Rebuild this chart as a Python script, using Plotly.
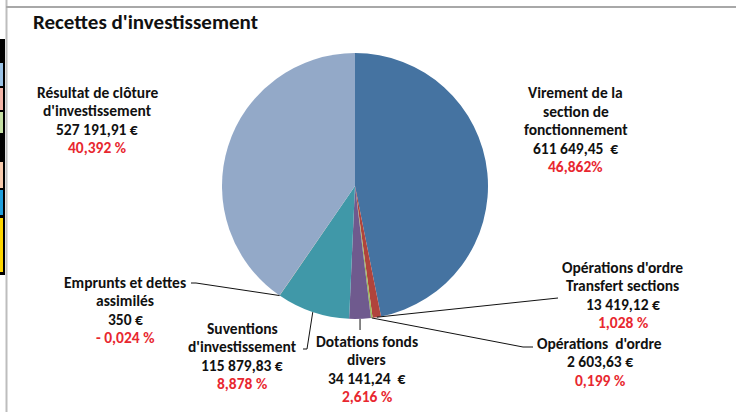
import math
import plotly.graph_objects as go

W, H = 736, 412

# ---- data ----
categories = [
    "Virement de la\nsection de\nfonctionnement",
    "Opérations d'ordre\nTransfert sections",
    "Opérations  d'ordre",
    "Dotations fonds\ndivers",
    "Suventions\nd'investissement",
    "Emprunts et dettes\nassimilés",
    "Résultat de clôture\nd'investissement",
]
values = [611649.45, 13419.12, 2603.63, 34141.24, 115879.83, 350, 527191.91]
amount_labels = ["611 649,45  €", "13 419,12 €", "2 603,63 €", "34 141,24  €",
                 "115 879,83 €", "350 €", "527 191,91 €"]
pct_labels = ["46,862%", "1,028 %", "0,199 %", "2,616 %", "8,878 %", "- 0,024 %", "40,392 %"]
colors = ["#4573A1", "#B0443C", "#9BBB59", "#6F5A8E", "#4098A8", "#E08A4A", "#93A9C8"]

# ---- layout (pixels) ----
CX, CY, R = 355, 186, 133
label_xy = [(575.5, 92.5), (622.5, 267), (599.5, 343), (366.5, 341),
            (242, 328), (125, 282), (97, 92)]
# leader line extra points after the slice anchor (None = no leader)
leader_pts = [None, [(558, 298)], [(523, 347), (533, 347)], [(None, 330)],
              [(307, 349), (303, 349)], [(196, 283), (191, 283)], None]
LINE_H = 18.6
FONT = "Carlito, Lato, sans-serif"


def px(x):
    return x / W


def py(y):
    return 1 - y / H


fig = go.Figure()
fig.add_trace(go.Pie(
    values=values,
    labels=[c.replace("\n", " ") for c in categories],
    marker=dict(colors=colors, line=dict(width=0)),
    sort=False, direction="clockwise", rotation=0,
    textinfo="none", hoverinfo="label+value+percent",
    domain=dict(x=[px(CX - R), px(CX + R)], y=[py(CY + R), py(CY - R)]),
    showlegend=False,
))

annotations = []
shapes = []
total = sum(values)
cum = 0.0
for i, v in enumerate(values):
    mid = (cum + v / 2) / total
    cum += v
    ang = 2 * math.pi * mid
    ax, ay = CX + R * math.sin(ang), CY - R * math.cos(ang)
    lines = categories[i].split("\n") + [amount_labels[i], pct_labels[i]]
    lx, ly = label_xy[i]
    for k, t in enumerate(lines):
        red = k == len(lines) - 1
        annotations.append(dict(
            x=px(lx), y=py(ly + k * LINE_H), xref="paper", yref="paper",
            text=f"<b>{t}</b>", showarrow=False, xanchor="center", yanchor="middle",
            font=dict(family=FONT, size=15.5, color="#E8272F" if red else "#111111"),
        ))
    if leader_pts[i]:
        pts = [(ax, ay)] + [((ax if x is None else x), y) for x, y in leader_pts[i]]
        path = "M " + " L ".join(f"{px(x)},{py(y)}" for x, y in pts)
        shapes.append(dict(type="path", xref="paper", yref="paper", path=path,
                           line=dict(color="#111111", width=1)))

# title
annotations.append(dict(
    x=px(31), y=py(22), xref="paper", yref="paper", text="<b>Recettes d'investissement</b>",
    showarrow=False, xanchor="left", yanchor="middle",
    font=dict(family=FONT, size=21, color="#111111"),
))

# spreadsheet frame decorations
shapes.append(dict(type="line", xref="paper", yref="paper", x0=px(6.5), x1=px(6.5), y0=0, y1=1,
                   line=dict(color="#BDBDBD", width=2)))
shapes.append(dict(type="line", xref="paper", yref="paper", x0=px(6), x1=1, y0=py(7), y1=py(7),
                   line=dict(color="#A8A8A8", width=2)))
shapes.append(dict(type="rect", xref="paper", yref="paper", x0=0, x1=px(5), y0=py(275), y1=py(39),
                   fillcolor="#000000", line=dict(width=0)))
cells = [(63, 86, "#9CC3E6"), (88, 110, "#F4B6A8"), (112, 133, "#C6E0A4"),
         (162, 188, "#F8CBAD"), (190, 215, "#1F9FDD"), (218, 272, "#FFD700")]
for y0, y1, c in cells:
    shapes.append(dict(type="rect", xref="paper", yref="paper", x0=0, x1=px(3), y0=py(y1), y1=py(y0),
                       fillcolor=c, line=dict(width=0)))

fig.update_layout(
    width=W, height=H,
    margin=dict(l=0, r=0, t=0, b=0),
    paper_bgcolor="white", plot_bgcolor="white",
    annotations=annotations, shapes=shapes,
)

fig.write_html("out.html", config=dict(displayModeBar=False),
               post_script="document.body.style.margin='0';document.body.style.overflow='hidden';")
